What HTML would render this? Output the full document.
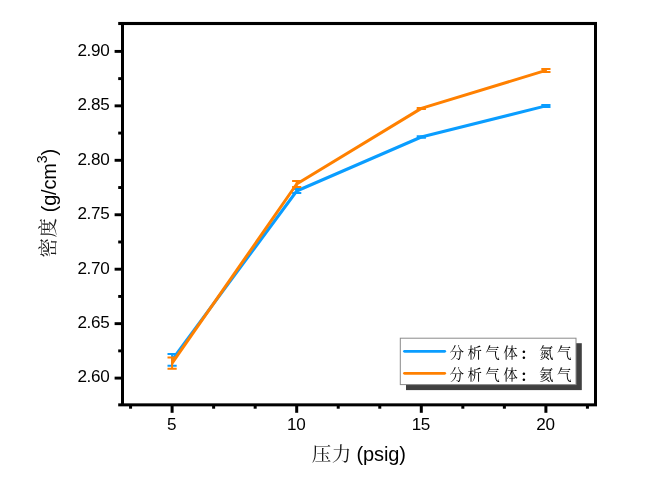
<!DOCTYPE html>
<html lang="zh-CN">
<head>
<meta charset="utf-8">
<title>密度 - 压力</title>
<style>
html,body{margin:0;padding:0;background:#fff;}
body{width:662px;height:480px;overflow:hidden;}
svg{display:block;}
.ax{fill:#000;}
.crisp{shape-rendering:crispEdges;}
.tl{font-family:"Liberation Sans",sans-serif;font-size:17.1px;letter-spacing:-0.35px;fill:#000;}
.lab{font-family:"Liberation Sans","Noto Serif CJK SC",serif;font-size:20px;fill:#000;}
.cjk{font-family:"Noto Serif CJK SC","Liberation Serif",serif;font-size:19.5px;letter-spacing:0.5px;fill:#1a1a1a;}
.leg{font-family:"Noto Serif CJK SC","Liberation Serif",serif;font-size:14.5px;letter-spacing:3.4px;fill:#000;}
</style>
</head>
<body>
<svg width="662" height="480" viewBox="0 0 662 480">
<rect x="0" y="0" width="662" height="480" fill="#fff"/>

<g><polyline points="172.10,359.90 296.70,191.00 421.30,137.00 545.90,105.90" fill="none" stroke="#0a9dff" stroke-width="3.0" stroke-linejoin="round"/>
<path d="M172.10 354.10V365.70M167.50 354.10h9.2M167.50 365.70h9.2" fill="none" stroke="#0a9dff" stroke-width="2"/>
<path d="M296.70 189.00V193.00M292.10 189.00h9.2M292.10 193.00h9.2" fill="none" stroke="#0a9dff" stroke-width="2"/>
<path d="M421.30 136.30V137.70M416.70 136.30h9.2M416.70 137.70h9.2" fill="none" stroke="#0a9dff" stroke-width="2"/>
<path d="M545.90 104.90V106.90M541.30 104.90h9.2M541.30 106.90h9.2" fill="none" stroke="#0a9dff" stroke-width="2"/></g>
<g><polyline points="172.10,363.10 296.70,184.00 421.30,108.40 545.90,70.40" fill="none" stroke="#ff8000" stroke-width="3.0" stroke-linejoin="round"/>
<path d="M172.10 357.40V368.80M167.50 357.40h9.2M167.50 368.80h9.2" fill="none" stroke="#ff8000" stroke-width="2"/>
<path d="M296.70 181.00V187.00M292.10 181.00h9.2M292.10 187.00h9.2" fill="none" stroke="#ff8000" stroke-width="2"/>
<path d="M421.30 107.90V108.90M416.70 107.90h9.2M416.70 108.90h9.2" fill="none" stroke="#ff8000" stroke-width="2"/>
<path d="M545.90 68.90V71.90M541.30 68.90h9.2M541.30 71.90h9.2" fill="none" stroke="#ff8000" stroke-width="2"/></g>
<g class="ax">
<rect class="crisp" x="121" y="22" width="3" height="384.35"/>
<rect class="crisp" x="594" y="22" width="3" height="384.35"/>
<rect x="118.2" y="21.95" width="478.8" height="3.1"/>
<rect x="118.2" y="403.35" width="478.8" height="3"/>
<rect x="114.6" y="376.65" width="7" height="2.9"/>
<rect x="114.6" y="322.20" width="7" height="2.9"/>
<rect x="114.6" y="267.75" width="7" height="2.9"/>
<rect x="114.6" y="213.30" width="7" height="2.9"/>
<rect x="114.6" y="158.85" width="7" height="2.9"/>
<rect x="114.6" y="104.40" width="7" height="2.9"/>
<rect x="114.6" y="49.95" width="7" height="2.9"/>
<rect x="118.2" y="349.43" width="4" height="2.9"/>
<rect x="118.2" y="294.98" width="4" height="2.9"/>
<rect x="118.2" y="240.53" width="4" height="2.9"/>
<rect x="118.2" y="186.08" width="4" height="2.9"/>
<rect x="118.2" y="131.62" width="4" height="2.9"/>
<rect x="118.2" y="77.18" width="4" height="2.9"/>
<rect x="170.60" y="404.35" width="3" height="8.45"/>
<rect x="295.20" y="404.35" width="3" height="8.45"/>
<rect x="419.80" y="404.35" width="3" height="8.45"/>
<rect x="544.40" y="404.35" width="3" height="8.45"/>
<rect x="129.07" y="404.35" width="3" height="4.35"/>
<rect x="212.13" y="404.35" width="3" height="4.35"/>
<rect x="253.67" y="404.35" width="3" height="4.35"/>
<rect x="336.73" y="404.35" width="3" height="4.35"/>
<rect x="378.27" y="404.35" width="3" height="4.35"/>
<rect x="461.33" y="404.35" width="3" height="4.35"/>
<rect x="502.87" y="404.35" width="3" height="4.35"/>
<rect x="585.93" y="404.35" width="3" height="4.35"/>
</g>
<g class="tl">
<text x="109.3" y="382.4" text-anchor="end">2.60</text>
<text x="109.3" y="328.0" text-anchor="end">2.65</text>
<text x="109.3" y="273.5" text-anchor="end">2.70</text>
<text x="109.3" y="219.1" text-anchor="end">2.75</text>
<text x="109.3" y="164.6" text-anchor="end">2.80</text>
<text x="109.3" y="110.2" text-anchor="end">2.85</text>
<text x="109.3" y="55.7" text-anchor="end">2.90</text>
<text x="171.6" y="429.8" text-anchor="middle">5</text>
<text x="296.2" y="429.8" text-anchor="middle">10</text>
<text x="420.8" y="429.8" text-anchor="middle">15</text>
<text x="545.4" y="429.8" text-anchor="middle">20</text>
</g>
<text class="lab" y="461"><tspan class="cjk" x="311.7" dy="-0.5">压力 </tspan><tspan x="356.4" dy="0.5" letter-spacing="-0.08">(psig)</tspan></text>
<text class="lab" transform="translate(55.6,257.5) rotate(-90)"><tspan class="cjk" x="0" dy="-0.5">密度 </tspan><tspan x="45.2" dy="0.5" letter-spacing="-0.18">(g/cm</tspan><tspan font-size="14px" dy="-8.5">3</tspan><tspan dy="8.5">)</tspan></text>
<rect x="406" y="343.2" width="175.8" height="46.9" fill="#404040"/>
<rect x="400.3" y="338.2" width="175.7" height="46.4" fill="#fff" stroke="#8a8a8a" stroke-width="1"/>
<line x1="404.5" y1="351.3" x2="444.7" y2="351.3" stroke="#0a9dff" stroke-width="2.8" stroke-linecap="round"/>
<line x1="404.5" y1="373.3" x2="444.7" y2="373.3" stroke="#ff8000" stroke-width="2.8" stroke-linecap="round"/>
<text class="leg" x="449.5" y="358">分析气体<tspan font-weight="700" dx="-1.2" dy="0.6">：</tspan><tspan dx="1.2" dy="-0.6">氮气</tspan></text>
<text class="leg" x="449.5" y="380">分析气体<tspan font-weight="700" dx="-1.2" dy="0.6">：</tspan><tspan dx="1.2" dy="-0.6">氦气</tspan></text>
</svg>
</body>
</html>
